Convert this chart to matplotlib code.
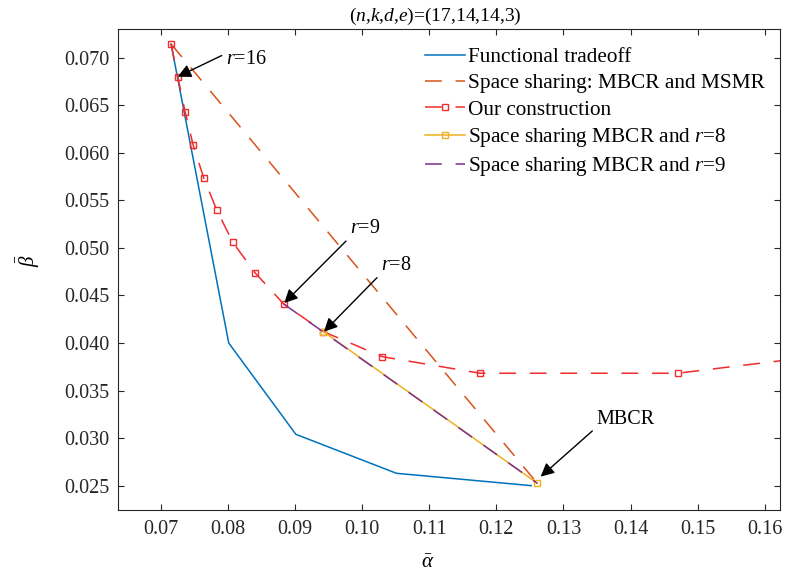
import matplotlib
matplotlib.use("Agg")
import matplotlib.pyplot as plt
import numpy as np

plt.rcParams['font.family'] = ['Liberation Serif', 'DejaVu Serif']
plt.rcParams['mathtext.fontset'] = 'custom'
plt.rcParams['mathtext.rm'] = 'Liberation Serif'
plt.rcParams['mathtext.it'] = 'Liberation Serif:italic'
plt.rcParams['font.size'] = 14.5

# functional tradeoff (corner points)
func_alpha = [0.0715, 0.0801, 0.0901, 0.1051, 0.1252]
func_beta = [0.07144, 0.0400, 0.0304, 0.0263, 0.0250]

# space sharing between MSMR and MBCR
msmr_alpha = [0.0715, 0.1261]
msmr_beta = [0.07144, 0.02525]

# our construction, r = 17 ... 4
our_r = [17, 16, 15, 14, 13, 12, 11, 10, 9, 8, 7, 6, 5, 4]
our_alpha = [0.0715, 0.0725, 0.0736, 0.0748, 0.0764, 0.0783, 0.0807,
             0.0840, 0.0883, 0.0942, 0.1030, 0.1176, 0.1470, 0.1900]
our_beta = [0.07144, 0.0680, 0.0643, 0.0608, 0.0573, 0.0540, 0.0506,
            0.0474, 0.0441, 0.0412, 0.03856, 0.03682, 0.03682, 0.0405]

# space sharing MBCR and r=8 / r=9
r8_alpha = [0.0942, 0.1261]
r8_beta = [0.0412, 0.02525]
r9_alpha = [0.0883, 0.1261]
r9_beta = [0.0441, 0.02525]

fig = plt.figure(figsize=(7.87, 5.74), dpi=100)
ax = fig.add_axes([0.1496, 0.111, 0.8415, 0.8385])

dash = (0, (11, 9))
ax.plot(func_alpha, func_beta, color="#0072BD", lw=1.1, label="Functional tradeoff")
ax.plot(msmr_alpha, msmr_beta, color="#D95319", lw=1.1, linestyle=dash,
        label="Space sharing: MBCR and MSMR")
ax.plot(our_alpha, our_beta, color="#F22B2B", lw=1.1, linestyle=dash, marker="s",
        markersize=5, mfc="none", mew=1.0, label="Our construction")
ax.plot(r8_alpha, r8_beta, color="#EDB120", lw=1.1, marker="s", markersize=5,
        mfc="none", mew=1.0, label="Space sharing MBCR and $r$=8")
ax.plot(r9_alpha, r9_beta, color="#7E2F8E", lw=1.1, linestyle=dash,
        label="Space sharing MBCR and $r$=9")

ax.set_xlim(0.06355, 0.16228)
ax.set_ylim(0.02241, 0.07302)
ax.set_xticks(np.arange(0.07, 0.1601, 0.01))
ax.set_yticks(np.arange(0.025, 0.0701, 0.005))
ax.xaxis.set_major_formatter(matplotlib.ticker.FormatStrFormatter('%.2f'))
ax.yaxis.set_major_formatter(matplotlib.ticker.FormatStrFormatter('%.3f'))
ax.tick_params(direction="in", top=True, right=True, length=4, width=0.8,
               color="#262626", labelcolor="#262626")
ax.tick_params(axis="x", pad=7)
ax.tick_params(axis="y", pad=6)
for s in ax.spines.values():
    s.set_color("#262626")
    s.set_linewidth(0.8)

ax.set_xlabel(r"$\bar{\alpha}$", fontsize=15)
ax.xaxis.set_label_coords(0.468, -0.09)
ax.set_ylabel(r"$\bar{\beta}$", fontsize=15)
ax.yaxis.set_label_coords(-0.115, 0.518)
ax.set_title("($n$,$k$,$d$,$e$)=(17,14,14,3)", x=0.479, pad=6, fontsize=14)

arrow = dict(arrowstyle="-|>", color="black", lw=1.0, mutation_scale=20,
             shrinkA=0, shrinkB=0)
ax.annotate("", xy=(0.07249, 0.0680), xytext=(0.07905, 0.07023), arrowprops=arrow)
ax.text(0.0797, 0.06976, "$r$=16", ha="left", va="center")
ax.annotate("", xy=(0.08838, 0.04421), xytext=(0.09758, 0.05072), arrowprops=arrow)
ax.text(0.0982, 0.0520, "$r$=9", ha="left", va="center")
ax.annotate("", xy=(0.0943, 0.04119), xytext=(0.1022, 0.04687), arrowprops=arrow)
ax.text(0.1028, 0.0482, "$r$=8", ha="left", va="center")
ax.annotate("", xy=(0.1266, 0.02595), xytext=(0.1343, 0.03075), arrowprops=arrow)
ax.text(0.1349, 0.03198, "MBCR", ha="left", va="center")

ax.legend(loc="upper left", bbox_to_anchor=(0.464, 0.962), frameon=False,
          borderpad=0, borderaxespad=0, handlelength=1.9, handletextpad=0.12,
          labelspacing=0.3, fontsize=15.3)

fig.savefig("out.png", dpi=100)
